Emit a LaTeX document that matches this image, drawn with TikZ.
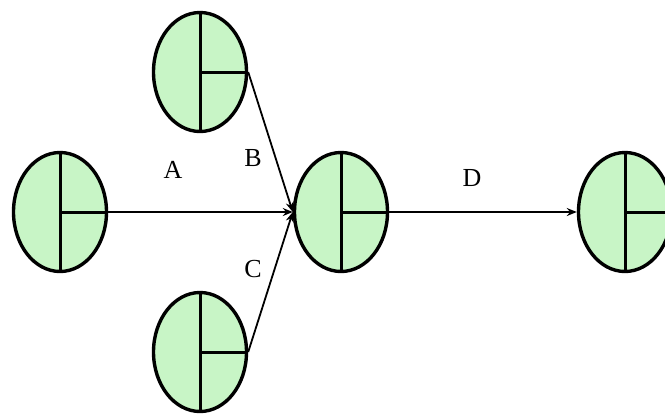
\documentclass[tikz,border=0pt]{standalone}
\usepackage{fontspec}
\setmainfont{Liberation Serif}
\usetikzlibrary{shapes.geometric,arrows.meta}
\definecolor{eventgreen}{RGB}{200,245,198}
\begin{document}
\begin{tikzpicture}[x=0.5pt,y=-0.5pt,
  event/.style={draw, ellipse, line width=1.7pt, fill=eventgreen,
    minimum width=46.5pt, minimum height=59.5pt, inner sep=0pt},
  act/.style={-{Stealth[length=5pt,width=4pt]}, line width=0.9pt},
  lbl/.style={font=\fontsize{13}{15}\selectfont}]
\fill[white] (0,0) rectangle (665,414);
\useasboundingbox (0,0) rectangle (665,414);

\node[event] (e1) at (60,212) {};
\node[event] (e2) at (200,72) {};
\node[event] (e3) at (200,352) {};
\node[event] (e4) at (341,212) {};
\node[event] (e5) at (625,212) {};

\foreach \n in {e1,e2,e3,e4,e5} {
  \draw[line width=1.5pt] (\n.north) -- (\n.south);
  \draw[line width=1.5pt] (\n.center) -- (\n.east);
}

\draw[act] (e1.east) -- (e4.west);
\draw[act] (e2.east) -- (e4.west);
\draw[act] (e3.east) -- (e4.west);
\draw[act] (e4.east) -- (e5.west);

\node[lbl] (la) at (173,170) {A};
\node[lbl] (lb) at (253,158) {B};
\node[lbl] (lc) at (253,269) {C};
\node[lbl] (ld) at (472,178) {D};
\end{tikzpicture}
\end{document}
